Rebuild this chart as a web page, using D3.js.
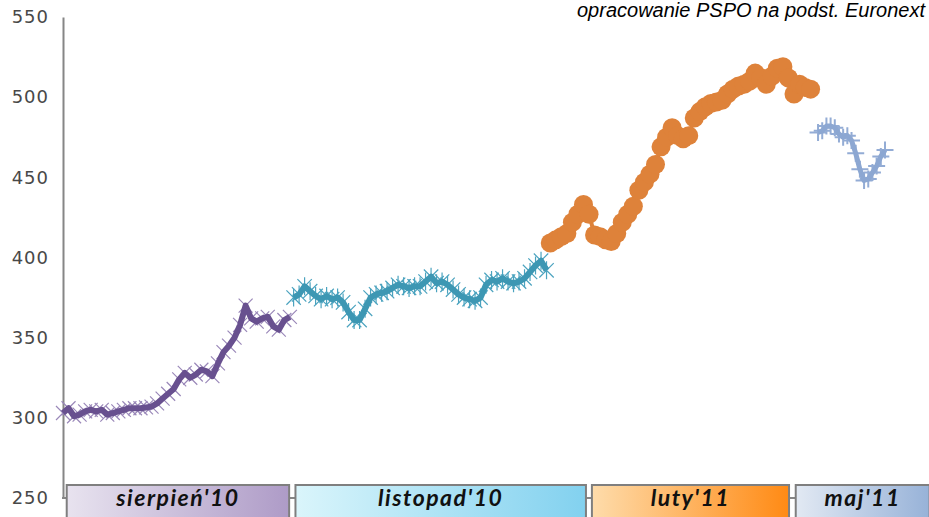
<!DOCTYPE html>
<html lang="pl">
<head>
  <meta charset="utf-8">
  <title>Notowania</title>
  <script src="https://d3js.org/d3.v7.min.js"></script>
  <style>
    body { margin: 0; background: #fff; }
  </style>
</head>
<body>
  <div id="chart"></div>

  <script>
    "use strict"

    // notowania dzienne
    var purpleValues = [303, 306, 301, 302, 304, 305, 304, 305, 302, 303, 304, 305, 306, 306, 306, 306.5,
      307, 309, 312, 315, 318, 324, 328, 325, 327, 330, 329, 326, 334, 341, 345, 350, 358, 370, 362, 360,
      362, 363, 357, 355, 361, 363];
    var tealValues = [375, 377, 382, 379, 376, 374, 376, 374, 375, 372, 366, 361, 361, 368, 375, 377, 378,
      379, 381, 383, 382, 381, 382, 382, 385, 388, 384, 385, 383, 380, 377, 375, 374, 373, 375, 383, 386,
      385, 387, 385, 384, 385, 387, 391, 395, 398, 392];
    var orangeValues = [409, 411, 413, 415, 422, 427, 433, 427, 414, 413, 411, 410, 415, 422, 427, 432, 442,
      447, 452, 458, 469, 475, 481, 476, 474, 476, 487, 491, 494, 496, 497, 498, 502, 505, 507, 508, 510,
      515, 512, 508, 513, 518, 519, 512, 502, 508, 506, 505];
    var blueValues = [478, 479, 482, 482, 481, 477, 475, 476, 473, 465, 455, 448, 449, 453, 457, 463, 467];

    // numer sesji: pierwsza i ostatnia w kazdym okresie
    var seriesStart = [0, 62, 131, 203];
    var seriesEnd = [61, 130, 201, 221];

    var periodLabels = ["sierpień'10", "listopad'10", "luty'11", "maj'11"];
    var periodFrom = [1, 62.5, 142.2, 197];
    var periodTo = [60.8, 140.6, 195.2, 233];

    var yTicks = [250, 300, 350, 400, 450, 500, 550];

    var larguraSVG = 929, alturaSVG = 517;

    var svg = d3.select('#chart')
      .append('svg')
        .attr('width', larguraSVG)
        .attr('height', alturaSVG);

    var x = d3.scaleLinear().domain([0, 221]).range([63, 885]);
    var y = d3.scaleLinear().domain([250, 550]).range([498, 17]);

    /*
     * gradienty dla etykiet okresow
     */
    var grad = [["#e8e3ef", "#ae9bc7"], ["#daf5fb", "#82d1ef"], ["#fedcab", "#ff8a14"], ["#e2e9f3", "#97b2d8"]];
    var defs = svg.append('defs');
    grad.forEach(function(g, i) {
      var lg = defs.append('linearGradient').attr('id', 'g' + i);
      lg.append('stop').attr('offset', '0%').attr('stop-color', g[0]);
      lg.append('stop').attr('offset', '100%').attr('stop-color', g[1]);
    });

    /*
     * osie
     */
    var eixoY = svg.append('g')
      .attr('transform', 'translate(63,0)')
      .call(d3.axisLeft(y).tickValues(yTicks).tickSize(0).tickSizeOuter(0).tickPadding(14));
    eixoY.select('.domain').attr('stroke', '#868686').attr('stroke-width', 2);
    eixoY.selectAll('text')
      .style('font-family', 'DejaVu Sans')
      .style('font-size', '18px')
      .style('letter-spacing', '1px')
      .attr('fill', '#484848');

    svg.append('line')
      .attr('x1', 62).attr('x2', larguraSVG)
      .attr('y1', y(250)).attr('y2', y(250))
      .attr('stroke', '#868686').attr('stroke-width', 2);

    /*
     * serie
     */
    function pontos(values, k) {
      var n = values.length;
      return values.map(function(v, i) {
        return { d: seriesStart[k] + i * (seriesEnd[k] - seriesStart[k]) / (n - 1), v: v };
      });
    }

    var linha = d3.line().x(d => x(d.d)).y(d => y(d.v));

    function marcaX(r) { return 'M' + (-r) + ',' + (-r) + 'L' + r + ',' + r + 'M' + (-r) + ',' + r + 'L' + r + ',' + (-r); }
    function marcaStar(r) { return marcaX(r * 0.8) + 'M0,' + (-r) + 'L0,' + r; }
    function marcaPlus(r) { return 'M' + (-r) + ',0L' + r + ',0M0,' + (-r) + 'L0,' + r; }

    var series = [
      { values: purpleValues, line: '#68508f', mark: '#9a88b9', shape: marcaX, r: 7, lw: 6 },
      { values: tealValues, line: '#3d97b3', mark: '#4ba3bf', shape: marcaStar, r: 9, lw: 6 },
      { values: orangeValues, line: '#de823a', mark: '#de823a', shape: null, r: 9.5, lw: 4 },
      { values: blueValues, line: '#8ca7d2', mark: '#93acd5', shape: marcaPlus, r: 8.5, lw: 5 }
    ];

    series.forEach(function(s, k) {
      var dados = pontos(s.values, k);
      var g = svg.append('g');

      if (s.shape) {
        g.selectAll('path.m')
          .data(dados)
          .enter()
          .append('path')
            .attr('class', 'm')
            .attr('d', s.shape(s.r))
            .attr('transform', d => 'translate(' + x(d.d) + ',' + y(d.v) + ')')
            .attr('stroke', s.mark)
            .attr('stroke-width', k == 3 ? 2 : 1.2)
            .attr('fill', 'none');
      }

      g.append('path')
        .datum(dados)
        .attr('d', linha)
        .attr('fill', 'none')
        .attr('stroke', s.line)
        .attr('stroke-width', s.lw)
        .attr('stroke-linejoin', 'round');

      if (!s.shape) {
        g.selectAll('circle')
          .data(dados)
          .enter()
          .append('circle')
            .attr('cx', d => x(d.d))
            .attr('cy', d => y(d.v))
            .attr('r', s.r)
            .attr('fill', s.mark);
      }
    });

    /*
     * etykiety okresow
     */
    var boxes = svg.append('g');
    periodLabels.forEach(function(lab, i) {
      boxes.append('rect')
        .attr('x', x(periodFrom[i]))
        .attr('y', 485)
        .attr('width', x(periodTo[i]) - x(periodFrom[i]))
        .attr('height', 40)
        .attr('fill', 'url(#g' + i + ')')
        .attr('stroke', '#7f7f7f')
        .attr('stroke-width', 2);
      boxes.append('text')
        .attr('x', (x(periodFrom[i]) + x(periodTo[i])) / 2)
        .attr('y', 506)
        .attr('text-anchor', 'middle')
        .style('font-family', 'Lato')
        .style('font-weight', 'bold')
        .style('font-style', 'italic')
        .style('font-size', '23px')
        .style('letter-spacing', '1.5px')
        .attr('fill', '#111')
        .text(lab);
    });

    svg.append('text')
      .attr('x', 925)
      .attr('y', 17)
      .attr('text-anchor', 'end')
      .style('font-family', 'Liberation Sans')
      .style('font-style', 'italic')
      .style('font-size', '20px')
      .attr('fill', '#000')
      .text('opracowanie PSPO na podst. Euronext');
  </script>
</body>
</html>
